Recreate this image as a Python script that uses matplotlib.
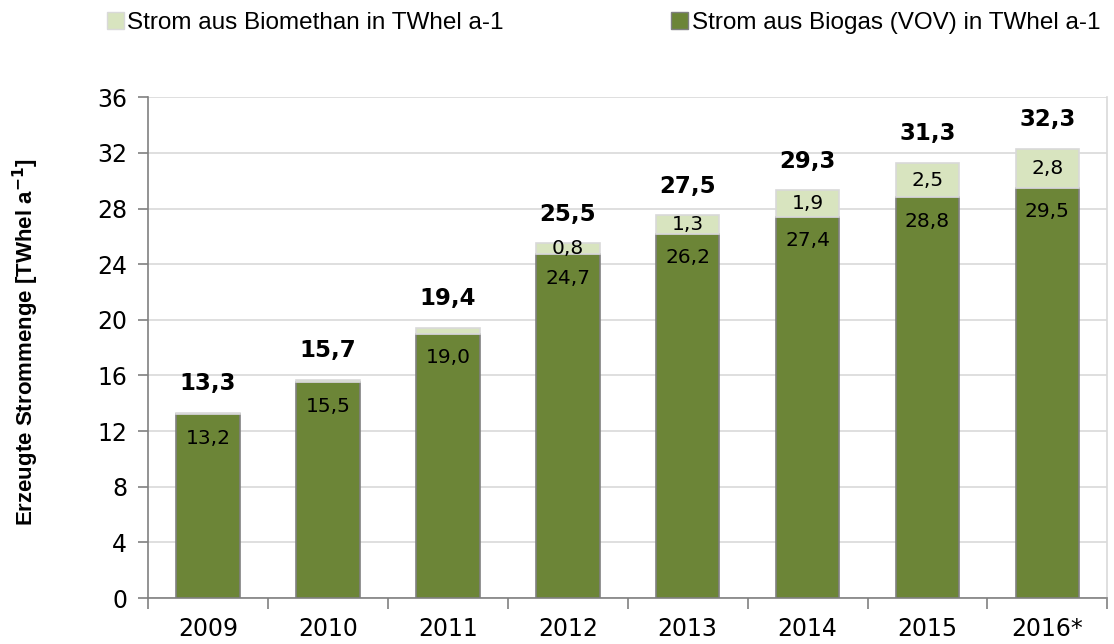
import matplotlib
matplotlib.use("Agg")
import matplotlib.pyplot as plt
from matplotlib.patches import Patch
import numpy as np

years = ["2009", "2010", "2011", "2012", "2013", "2014", "2015", "2016*"]
biogas = [13.2, 15.5, 19.0, 24.7, 26.2, 27.4, 28.8, 29.5]
biomethan = [0.1, 0.2, 0.4, 0.8, 1.3, 1.9, 2.5, 2.8]
totals = [13.3, 15.7, 19.4, 25.5, 27.5, 29.3, 31.3, 32.3]
show_biomethan_label = [False, False, False, True, True, True, True, True]
yticks = [0, 4, 8, 12, 16, 20, 24, 28, 32, 36]

dark = "#6C8537"
light = "#D8E4BF"
edge = "#808080"
grid_c = "#D9D9D9"

def fmt(v):
    return f"{v:.1f}".replace(".", ",")

plt.rcParams['font.family'] = ['DejaVu Sans']
fig = plt.figure(figsize=(11.14, 6.44), dpi=100)
ax = fig.add_axes([0.133, 0.0714, 0.861, 0.7776])

x = np.arange(len(years))
w = 0.53
ax.bar(x, biogas, w, color=dark, edgecolor=edge, linewidth=1.2, zorder=3)
ax.bar(x, biomethan, w, bottom=biogas, color=light, edgecolor=grid_c, linewidth=1.2, zorder=3)

for i in range(len(years)):
    ax.annotate(fmt(biogas[i]), (x[i], biogas[i]), xytext=(0, -17), textcoords="offset points",
                ha="center", va="center", fontsize=14.5, color="black", zorder=4)
    if show_biomethan_label[i]:
        ax.text(x[i], biogas[i] + biomethan[i] / 2, fmt(biomethan[i]), ha="center", va="center",
                fontsize=14.5, color="black", zorder=4)
    ax.annotate(fmt(totals[i]), (x[i], totals[i]), xytext=(0, 21), textcoords="offset points",
                ha="center", va="center", fontsize=16.5, fontweight="bold", color="black", zorder=4)

ax.set_xlim(-0.5, len(years) - 0.5)
ax.set_ylim(0, 36)
ax.set_yticks(yticks)
ax.set_yticklabels([str(t) for t in yticks], fontsize=17)
ax.set_xticks(x)
ax.set_xticklabels(years, fontsize=17)
ax.set_xticks(np.arange(-0.5, len(years), 1.0), minor=True)
ax.tick_params(axis="x", which="major", length=0, pad=14)
ax.tick_params(axis="x", which="minor", length=8, color=edge, width=1.2, direction="out")
ax.tick_params(axis="y", length=7, color=edge, width=1.2, pad=8)
ax.yaxis.grid(True, color=grid_c, linewidth=1.2, zorder=0)
ax.set_axisbelow(True)
ax.spines["top"].set_visible(False)
ax.spines["right"].set_color(grid_c)
ax.spines["right"].set_linewidth(1.2)
for s in ["left", "bottom"]:
    ax.spines[s].set_color(edge)
    ax.spines[s].set_linewidth(1.2)

fig.text(0.023, 0.469, r"Erzeugte Strommenge [TWhel a$^{\mathbf{-1}}$]", rotation=90,
         ha="center", va="center", fontsize=16, fontweight="bold", family="Liberation Sans")

handles = [Patch(facecolor=light, edgecolor=grid_c, label="Strom aus Biomethan in TWhel a-1"),
           Patch(facecolor=dark, edgecolor=edge, label="Strom aus Biogas (VOV) in TWhel a-1")]
fig.legend(handles=handles, loc="upper left", bbox_to_anchor=(0.076, 1.015), ncol=2, frameon=False,
           handlelength=0.7, handleheight=0.7, handletextpad=0.15, columnspacing=6.9,
           prop={'family': 'Liberation Sans', 'size': 17.5})

fig.savefig("out.png", dpi=100)
